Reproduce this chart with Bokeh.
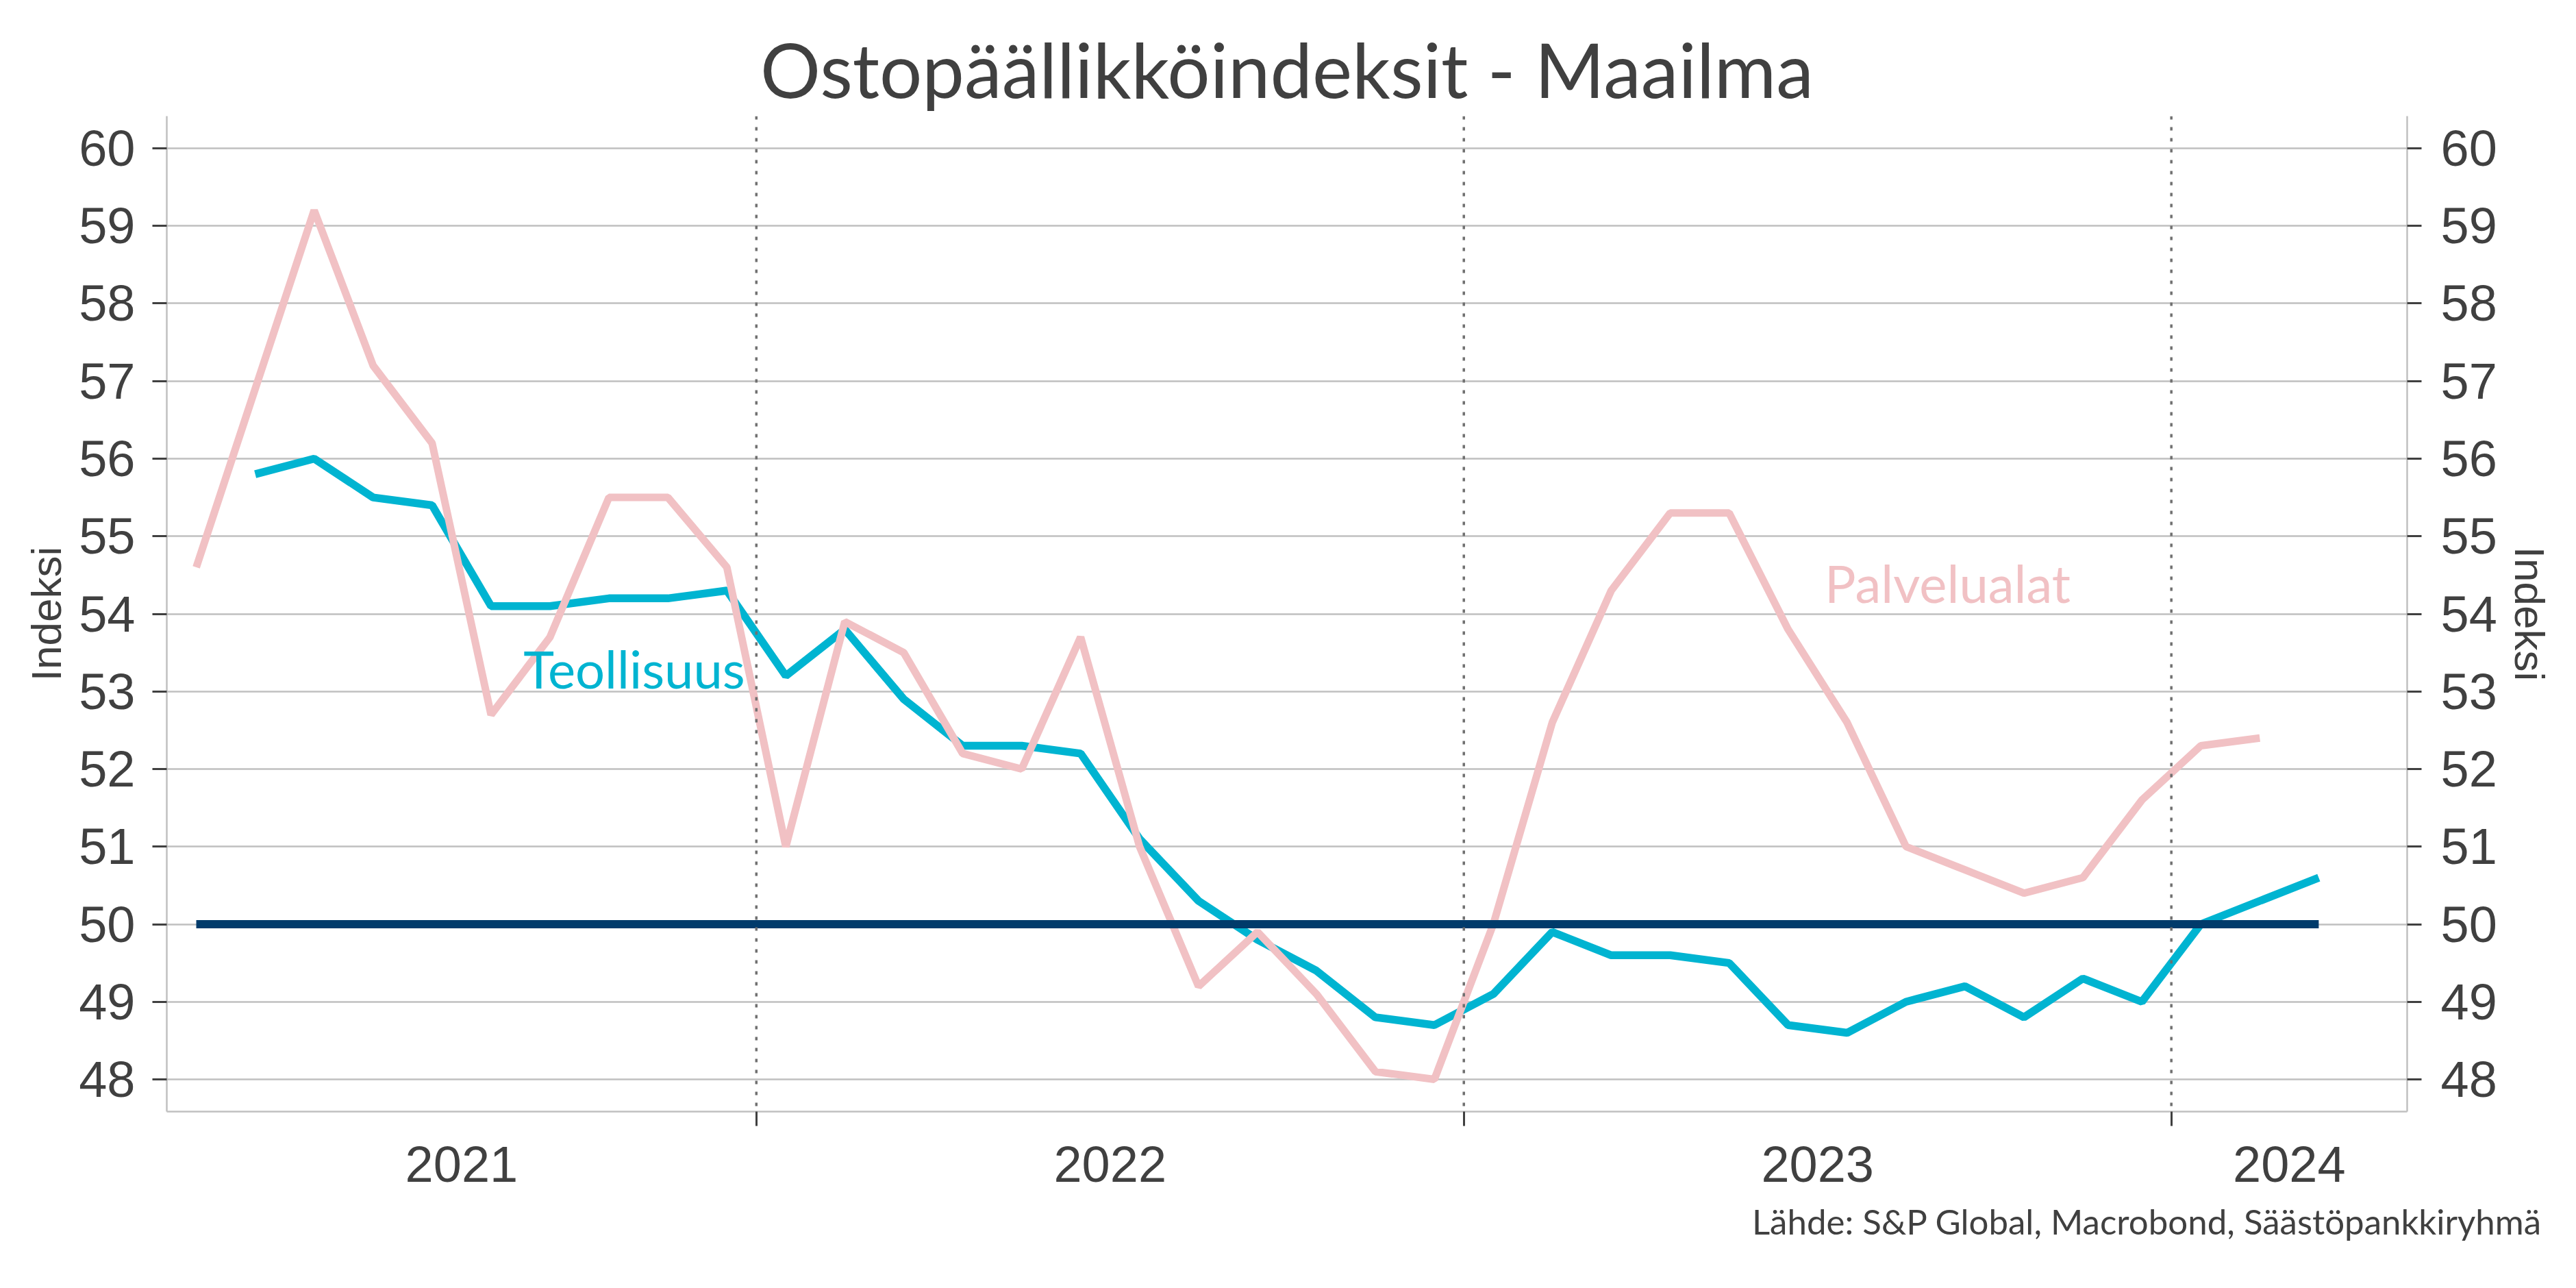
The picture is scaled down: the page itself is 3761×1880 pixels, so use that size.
from bokeh.plotting import figure
from bokeh.models import Range1d, FixedTicker, LinearAxis, Span, Label, Title
from bokeh.embed import file_html
from bokeh.resources import INLINE

# ---------------- data ----------------
chart_title = "Ostopäällikköindeksit - Maailma"
source_text = "Lähde: S&P Global, Macrobond, Säästöpankkiryhmä"
axis_title = "Indeksi"

years = ["2021", "2022", "2023", "2024"]
y_ticks = [48, 49, 50, 51, 52, 53, 54, 55, 56, 57, 58, 59, 60]

services_name = "Palvelualat"
services_start = "2021-03"
services_values = [
    54.6, 56.9, 59.2, 57.2, 56.2, 52.7, 53.7, 55.5, 55.5, 54.6,
    51.0, 53.9, 53.5, 52.2, 52.0, 53.7, 51.0, 49.2, 49.9, 49.1, 48.1, 48.0,
    50.0, 52.6, 54.3, 55.3, 55.3, 53.8, 52.6, 51.0, 50.7, 50.4, 50.6, 51.6,
    52.3, 52.4,
]

industry_name = "Teollisuus"
industry_start = "2021-04"
industry_values = [
    55.8, 56.0, 55.5, 55.4, 54.1, 54.1, 54.2, 54.2, 54.3,
    53.2, 53.8, 52.9, 52.3, 52.3, 52.2, 51.1, 50.3, 49.8, 49.4, 48.8, 48.7,
    49.1, 49.9, 49.6, 49.6, 49.5, 48.7, 48.6, 49.0, 49.2, 48.8, 49.3, 49.0,
    50.0, 50.3, 50.6,
]

threshold = 50

# axis window (months counted from Jan 2021)
x_start_month = "2021-03"
x_end_month = "2024-05"


def month_index(ym):
    y, m = ym.split("-")
    return (int(y) - 2021) * 12 + int(m) - 1


def series_x(start, n):
    s = month_index(start)
    return [s + i + 0.5 for i in range(n)]  # plotted mid-month


services_x = series_x(services_start, len(services_values))
industry_x = series_x(industry_start, len(industry_values))

x0 = month_index(x_start_month)
x1 = month_index(x_end_month)
year_bounds = [12 * i for i in range(1, len(years)) if x0 < 12 * i < x1]
year_centres = []
for i, yr in enumerate(years):
    a = max(12 * i, x0)
    b = min(12 * (i + 1), x1)
    year_centres.append((a + b) / 2)

thr_x = [min(services_x + industry_x), max(services_x + industry_x)]
thr_y = [threshold, threshold]

# ---------------- styles ----------------
TXT = "#404040"
GRID = "#c0c0c0"
CYAN = "#00b4d1"
PINK = "#f1c1c4"
NAVY = "#003b6b"
TICKFONT = "Liberation Sans"
LABFONT = "Lato"

p = figure(
    width=3745, height=1864,
    output_backend="svg", toolbar_location=None,
    x_range=Range1d(x0, x1), y_range=Range1d(47.585, 60.415),
    min_border_left=243, min_border_right=231,
    min_border_top=169, min_border_bottom=242,
)
p.outline_line_color = None
p.background_fill_color = "white"
p.border_fill_color = "white"
p.xgrid.visible = False
p.ygrid.ticker = FixedTicker(ticks=y_ticks)
p.ygrid.grid_line_color = GRID
p.ygrid.grid_line_width = 2.5

# title
p.title.text = chart_title
p.title.align = "center"
p.title.text_font = LABFONT
p.title.text_font_size = "110px"
p.title.text_font_style = "normal"
p.title.text_color = TXT
p.title.standoff = 8

# x axis
xa = p.xaxis[0]
xa.ticker = FixedTicker(ticks=year_centres, minor_ticks=year_bounds)
xa.major_label_overrides = {c: y for c, y in zip(year_centres, years)}
xa.major_tick_out = 0
xa.major_tick_in = 0
xa.minor_tick_out = 21
xa.minor_tick_in = 0
xa.minor_tick_line_color = TXT
xa.minor_tick_line_width = 3
xa.axis_line_color = GRID
xa.axis_line_width = 2.5
xa.major_label_text_font = TICKFONT
xa.major_label_text_font_size = "74px"
xa.major_label_text_color = TXT
xa.major_label_standoff = 30


def style_y(ax, standoff, lab_standoff):
    ax.ticker = FixedTicker(ticks=y_ticks, minor_ticks=[])
    ax.major_tick_out = 21
    ax.major_tick_in = 0
    ax.major_tick_line_color = TXT
    ax.major_tick_line_width = 3
    ax.minor_tick_line_color = None
    ax.axis_line_color = GRID
    ax.axis_line_width = 2.5
    ax.major_label_text_font = TICKFONT
    ax.major_label_text_font_size = "74px"
    ax.major_label_text_color = TXT
    ax.major_label_standoff = standoff
    ax.axis_label = axis_title
    ax.axis_label_text_font = TICKFONT
    ax.axis_label_text_font_size = "62px"
    ax.axis_label_text_font_style = "normal"
    ax.axis_label_text_color = TXT
    ax.axis_label_standoff = lab_standoff


style_y(p.yaxis[0], 25, 10)
ra = LinearAxis()
style_y(ra, 28, 10)
p.add_layout(ra, "right")

# source note below the axis, right aligned past the frame edge
src = Title(text=source_text, align="right", offset=-197,
            text_font=LABFONT, text_font_size="51px",
            text_font_style="normal", text_color=TXT, standoff=44)
p.add_layout(src, "below")

# year separators
for b in year_bounds:
    p.add_layout(Span(location=b, dimension="height", line_color="#707070",
                      line_width=3.5, line_dash="5 11"))

# series
p.line(industry_x, industry_values, line_color=CYAN, line_width=11.5)
p.line(services_x, services_values, line_color=PINK, line_width=11)
p.line(thr_x, thr_y, line_color=NAVY, line_width=12)

# in-plot labels
p.add_layout(Label(x=8.05, y=53.30, text=industry_name, text_color=CYAN,
                   text_font=LABFONT, text_font_size="76px",
                   text_baseline="alphabetic"))
p.add_layout(Label(x=30.12, y=54.40, text=services_name, text_color=PINK,
                   text_font=LABFONT, text_font_size="76px",
                   text_baseline="alphabetic"))

open("out.html", "w").write(file_html(p, INLINE))
